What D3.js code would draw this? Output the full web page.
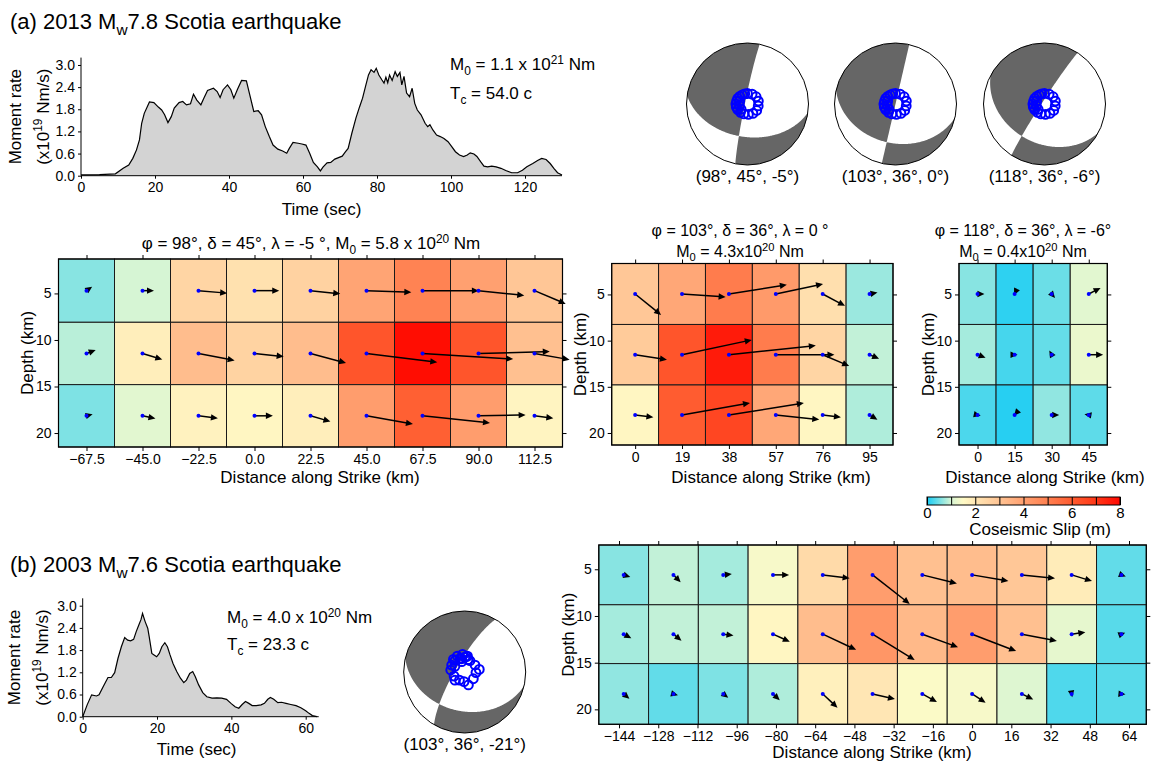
<!DOCTYPE html>
<html>
<head>
<meta charset="utf-8">
<script src="https://cdn.jsdelivr.net/npm/d3@7"></script>
<style>
  body { margin: 0; background: #fff; }
  svg text { font-family: "Liberation Sans", Arial, Helvetica, sans-serif; fill: #000; }
</style>
</head>
<body>
<svg id="chart" width="1151" height="763"></svg>
<script>
// ---- Moment rate functions ----
const timeA = [0,5,9.3,11.4,12.9,14,15,15.8,16.4,17.1,18.5,19.7,20.9,21.8,22.6,23.5,24.4,25.2,26.5,27.5,
  28.5,29.6,30.4,31.3,32.4,33.2,34.2,35.8,36.8,37.6,38.4,39.6,40.5,41.3,42.3,43.4,44.7,45.5,46.7,47.9,
  48.8,49.8,50.9,51.9,53.2,54.5,55.6,56.3,57.3,58.7,59.7,60.8,61.8,62.8,63.9,64.7,65.4,66.5,67.5,68.6,
  69.6,70.6,71.5,72.2,73.2,74.3,75.3,76.1,76.9,77.7,78.4,79.2,79.8,80.5,81.3,81.9,82.4,82.9,83.4,84.1,
  84.9,85.5,86.2,86.7,87.3,88,88.8,89.5,90.2,90.9,91.9,93,93.7,94.3,95.1,96.1,97.1,98.1,99.2,100.2,
  101.2,102.3,103.4,104.4,105.2,106.2,107,108,108.9,109.9,111,112.2,113.5,114.8,116.4,118,119.3,120.5,122.1,123.4,
  124.5,125.7,126.8,127.8,128.8,130];
const rateA = [0.02,0.03,0.05,0.2,0.29,0.47,0.7,0.97,1.42,1.69,2.0,1.98,1.86,1.78,1.65,1.44,1.6,1.83,1.98,2.01,
  1.92,1.95,2.21,2.05,1.92,2.1,2.31,2.37,2.28,2.12,2.33,2.46,2.33,2.1,2.34,2.58,2.57,2.24,1.74,1.76,
  1.65,1.33,1.06,0.83,0.72,0.67,0.61,0.74,0.9,0.88,0.86,0.83,0.61,0.36,0.24,0.13,0.23,0.35,0.36,0.45,
  0.49,0.53,0.65,0.74,1.15,1.56,1.87,2.1,2.42,2.73,2.87,2.8,2.91,2.73,2.6,2.51,2.67,2.52,2.73,2.58,
  2.82,2.69,2.8,2.46,2.69,2.24,2.14,2.37,1.96,1.78,1.65,1.42,1.33,1.38,1.24,1.1,1.06,1.01,0.92,0.79,
  0.65,0.56,0.52,0.56,0.62,0.59,0.52,0.38,0.26,0.24,0.26,0.24,0.2,0.14,0.08,0.08,0.15,0.24,0.33,0.41,
  0.47,0.44,0.33,0.2,0.08,0.02];

const timeB = [0,1.2,2.4,3.7,4.4,5.5,6.8,7.7,8.6,9.5,10.4,11.3,12.1,12.9,13.7,14.4,15.1,15.7,16.1,16.8,
  17.5,17.9,18.6,19.2,19.9,20.6,21.3,22.1,22.8,23.5,24.3,25.3,26.3,27.2,27.9,28.8,29.6,30.3,31.2,32.3,
  33.4,34.8,36.1,37.4,38.7,39.9,41,42,42.9,43.8,44.7,45.6,46.7,48,48.9,49.8,50.5,51.4,52.5,53.5,
  54.7,56,57.4,58.7,60,60.9,61.8,63];
const rateB = [0,0.32,0.59,0.56,0.59,0.81,1.06,1.06,1.19,1.58,1.89,2.14,2.07,2.05,2.09,2.3,2.48,2.63,2.79,2.57,
  2.39,2.16,1.71,1.67,1.62,1.71,1.89,2.0,1.89,1.67,1.44,1.22,1.04,0.92,0.99,1.17,1.22,1.08,0.86,0.65,
  0.54,0.5,0.51,0.5,0.47,0.36,0.27,0.23,0.33,0.41,0.36,0.3,0.3,0.32,0.36,0.47,0.52,0.47,0.38,0.39,
  0.36,0.33,0.3,0.24,0.16,0.09,0.03,0];

const rateTicks = [0, 0.6, 1.2, 1.8, 2.4, 3.0];
const timeTicksA = [0, 20, 40, 60, 80, 100, 120];
const timeTicksB = [0, 20, 40, 60];

// ---- Focal mechanisms (strike, dip, rake) ----
const mechsA = [[98, 45, -5], [103, 36, 0], [118, 36, -6]];
const mechB = [103, 36, -21];
// blue symbols, azimuth / take-off angle in degrees
const blueAzA = [0,25,50,75,100,125,150,175,200,220,240,255,270,285,300,315,330,345,230,260,290];
const blueToaA = [14,14.5,15,15,14.5,15,14.5,14,14,14.5,15,15.5,15.5,15,15,14.5,14,14,11,11,11];
const blueAzB = [318,335,353,10,25,56,80,93,128,164,184,213,249,278,298,341,1,344,345,15,320,5,300,230];
const blueToaB = [22.6,23.4,23.7,21.5,16.6,16.6,19.8,15,14.6,18,12.9,12.8,15.2,18.8,19.7,19.3,19.6,14.3,18,17,20,21,15,17];

// ---- Slip models: slip (m) and slip direction (deg, counter-clockwise from +strike) ----
const grid1Dist = [-67.5, -45, -22.5, 0, 22.5, 45, 67.5, 90, 112.5];
const grid1DepthEdges = [1.3, 8.1, 14.8, 21.5];
const grid1Slip = [
  [0.6, 1.0, 2.5, 2.15, 2.6, 3.9, 4.9, 4.0, 2.95],
  [0.85, 1.8, 3.2, 2.55, 3.2, 6.2, 7.9, 6.2, 3.1],
  [0.55, 1.15, 1.7, 1.6, 1.8, 4.1, 5.9, 4.1, 1.65]];
const grid1Dir = [
  [35, 0, -5, 0, -6, -2, 0, -6, -23],
  [20, -17, -11, -6, -15, -7, -3.5, 1.5, -10],
  [15, -12, -7, 0, -16, -10, -6, 1, -7]];

const grid2Dist = [0, 19, 38, 57, 76, 95];
const grid2DepthEdges = [1.65, 8.25, 14.8, 21.3];
const grid2Slip = [
  [2.9, 3.8, 5.1, 4.2, 2.2, 0.7],
  [2.8, 6.2, 7.6, 5.1, 2.5, 0.9],
  [1.6, 6.0, 6.6, 3.8, 1.6, 0.8]];
const grid2Dir = [
  [-39, -4, 9, 12, -28, 10],
  [-9, 12, 6, 0, -23, -23],
  [-7, 10, 9, -6, -7, -31]];

const grid3Dist = [0, 15, 30, 45];
const grid3DepthEdges = [1.65, 8.25, 14.8, 21.3];
const grid3Slip = [
  [0.6, 0.12, 0.45, 1.15],
  [0.75, 0.25, 0.42, 1.25],
  [0.28, 0.08, 0.65, 0.38]];
const grid3Dir = [
  [0, -115, -50, 27],
  [-21, 0, 120, 0],
  [-12, -130, 0, 170]];

const grid4Dist = [-142.1, -121.8, -101.5, -81.2, -60.9, -40.6, -20.3, 0, 20.3, 40.6, 60.9];
const grid4Ticks = [-144, -128, -112, -96, -80, -64, -48, -32, -16, 0, 16, 32, 48, 64];
const grid4DepthEdges = [2.4, 8.8, 15.1, 21.6];
const grid4Slip = [
  [0.6, 0.9, 0.75, 1.4, 2.35, 4.1, 3.1, 3.2, 2.9, 1.85, 0.4],
  [0.75, 0.9, 0.9, 1.6, 3.2, 4.3, 3.3, 4.1, 3.1, 1.2, 0.35],
  [0.65, 0.4, 0.55, 0.8, 1.75, 2.0, 1.45, 1.4, 1.1, 0.3, 0.35]];
const grid4Dir = [
  [-17, -46, 6, 0, -7, -38, -14, -9.5, -6, -17, -20],
  [-28, -39, -8, -24, -25, -31.5, -20, -21, -11, 8, 20],
  [-40, -15, -38, -43, -43, -13, -29, -33, -26, -80, -5]];

const depthTicks = [5, 10, 15, 20];

// colour table for slip
const slipStops = [0, 0.5, 1, 1.5, 2, 3, 4, 5, 6, 7, 8];
const slipColors = ["#18ccf4", "#74e0e6", "#d6f5d4", "#fffac6", "#ffe6b4", "#ffc494",
                    "#ffa070", "#ff8050", "#ff5c30", "#ff3818", "#ff0800"];
const slipTicks = [0, 2, 4, 6, 8];

const slipColor = d3.scaleLinear().domain(slipStops).range(slipColors).clamp(true);
const svg = d3.select("#chart");
const PX_PER_M = 11.5;

// text with sub/superscripts; parts = [[text, "sub"|"sup"|undefined], ...]
function rich(x, y, parts, size, anchor, rotate) {
  const t = svg.append("text")
    .attr("x", x).attr("y", y)
    .attr("font-size", size)
    .attr("text-anchor", anchor || "start");
  if (rotate) t.attr("transform", `rotate(-90, ${x}, ${y})`);
  let cur = 0;
  parts.forEach(p => {
    let want = p[1] === "sub" ? size * 0.28 : p[1] === "sup" ? -size * 0.38 : 0;
    t.append("tspan")
      .attr("dy", want - cur)
      .attr("font-size", p[1] ? size * 0.7 : size)
      .text(p[0]);
    cur = want;
  });
  return t;
}

function styleAxis(g) {
  g.attr("font-size", 14).attr("font-family", "'Liberation Sans', Arial, sans-serif");
  g.select(".domain").remove();
  g.selectAll("line").attr("stroke", "#000");
  g.selectAll("text").attr("fill", "#000");
}

/* Moment rate panel */
function drawRate(cfg) {
  let x = d3.scaleLinear().domain(cfg.xDomain).range(cfg.xRange);
  let y = d3.scaleLinear().domain([0, 3.2]).range(cfg.yRange);
  let pts = d3.zip(cfg.time, cfg.rate);

  svg.append("path").datum(pts)
    .attr("d", d3.area().x(d => x(d[0])).y0(y(0)).y1(d => y(d[1])))
    .attr("fill", "#d3d3d3");
  svg.append("path").datum(pts)
    .attr("d", d3.line().x(d => x(d[0])).y(d => y(d[1])))
    .attr("fill", "none").attr("stroke", "#000").attr("stroke-width", 1.2);

  svg.append("g").attr("transform", `translate(0, ${cfg.yRange[0]})`)
    .call(d3.axisBottom(x).tickValues(cfg.ticks).tickSize(3).tickPadding(3).tickSizeOuter(0))
    .call(styleAxis);
  svg.append("g").attr("transform", `translate(${cfg.xRange[0]}, 0)`)
    .call(d3.axisLeft(y).tickValues(rateTicks).tickFormat(d3.format(".1f")).tickSize(3).tickPadding(3).tickSizeOuter(0))
    .call(styleAxis);
  // axis lines
  svg.append("line").attr("x1", cfg.xRange[0]).attr("x2", cfg.xRange[1])
    .attr("y1", cfg.yRange[0]).attr("y2", cfg.yRange[0]).attr("stroke", "#000");
  svg.append("line").attr("x1", cfg.xRange[0]).attr("x2", cfg.xRange[0])
    .attr("y1", cfg.yRange[0]).attr("y2", cfg.yRange[1]).attr("stroke", "#000");

  let midY = (cfg.yRange[0] + cfg.yRange[1]) / 2;
  rich(cfg.labelX[0], midY, [["Moment rate"]], 17, "middle", true).attr("dy", "0.35em");
  rich(cfg.labelX[1], midY, [["(x10"], ["19", "sup"], [" Nm/s)"]], 17, "middle", true)
    .select("tspan").attr("dy", "0.35em");
  svg.append("text").attr("x", (cfg.xRange[0] + cfg.xRange[1]) / 2 + cfg.titleShift)
    .attr("y", cfg.titleY).attr("text-anchor", "middle").attr("font-size", 17).text("Time (sec)");
  rich(cfg.textX, cfg.textY[0], cfg.m0, 17);
  rich(cfg.textX, cfg.textY[1], cfg.tc, 17);
}

/* Beach ball (lower hemisphere, equal area) */
let ballCount = 0;
function drawBall(cx, cy, R, mech, blueAz, blueToa) {
  const rad = Math.PI / 180;
  const [phi, delta, lambda] = mech.map(v => v * rad);
  const nrm = [-Math.sin(delta) * Math.sin(phi), Math.sin(delta) * Math.cos(phi), -Math.cos(delta)];
  const slp = [Math.cos(lambda) * Math.cos(phi) + Math.sin(lambda) * Math.cos(delta) * Math.sin(phi),
               Math.cos(lambda) * Math.sin(phi) - Math.sin(lambda) * Math.cos(delta) * Math.cos(phi),
               -Math.sin(lambda) * Math.sin(delta)];
  const n = 180, ext = 1.08;
  const vals = new Float64Array(n * n);
  for (let j = 0; j < n; j++) {
    for (let i = 0; i < n; i++) {
      let px = ((i + 0.5) / n * 2 - 1) * ext;
      let py = ((j + 0.5) / n * 2 - 1) * ext;
      let r = Math.min(Math.hypot(px, py), 1.4);
      let inc = 2 * Math.asin(r / Math.SQRT2);
      let az = Math.atan2(px, -py);
      let ray = [Math.sin(inc) * Math.cos(az), Math.sin(inc) * Math.sin(az), Math.cos(inc)];
      let a = nrm[0] * ray[0] + nrm[1] * ray[1] + nrm[2] * ray[2];
      let b = slp[0] * ray[0] + slp[1] * ray[1] + slp[2] * ray[2];
      vals[j * n + i] = a * b;
    }
  }
  const id = "ballclip" + (ballCount++);
  svg.append("clipPath").attr("id", id).append("circle").attr("cx", cx).attr("cy", cy).attr("r", R);
  const g = svg.append("g");
  g.append("circle").attr("cx", cx).attr("cy", cy).attr("r", R).attr("fill", "#fff");
  const proj = d3.geoIdentity().scale(2 * ext * R / n).translate([cx - ext * R, cy - ext * R]);
  g.append("g").attr("clip-path", `url(#${id})`)
    .selectAll("path")
    .data(d3.contours().size([n, n]).thresholds([0])(vals))
    .join("path")
    .attr("d", d3.geoPath(proj))
    .attr("fill", "#666");
  g.append("circle").attr("cx", cx).attr("cy", cy).attr("r", R)
    .attr("fill", "none").attr("stroke", "#000").attr("stroke-width", 1);

  const pts = d3.zip(blueAz, blueToa).map(([az, toa]) => {
    let r = Math.SQRT2 * Math.sin(toa * rad / 2) * R;
    return [cx + r * Math.sin(az * rad), cy - r * Math.cos(az * rad)];
  });
  g.selectAll(null).data(pts).join("circle")
    .attr("cx", d => d[0]).attr("cy", d => d[1]).attr("r", 4.4)
    .attr("fill", "none").attr("stroke", "#0000ff").attr("stroke-width", 2);

  svg.append("text").attr("x", cx).attr("y", cy + R + 17)
    .attr("text-anchor", "middle").attr("font-size", 17)
    .text(`(${mech[0]}°, ${mech[1]}°, ${mech[2]}°)`);
}

/* Slip grid */
function arrow(g, x0, y0, len, dirDeg) {
  let a = dirDeg * Math.PI / 180;
  let ux = Math.cos(a), uy = -Math.sin(a);
  let x1 = x0 + len * ux, y1 = y0 + len * uy;
  let hl = 7, hw = 3.2;
  if (len > hl) {
    g.append("line").attr("x1", x0).attr("y1", y0)
      .attr("x2", x1 - ux * (hl - 1)).attr("y2", y1 - uy * (hl - 1))
      .attr("stroke", "#000").attr("stroke-width", 1.5);
  }
  let bx = x1 - ux * hl, by = y1 - uy * hl;
  g.append("polygon")
    .attr("points", [[x1, y1], [bx - uy * hw, by + ux * hw], [bx + uy * hw, by - ux * hw]].map(p => p.join(",")).join(" "))
    .attr("fill", "#000");
  g.append("circle").attr("cx", x0).attr("cy", y0).attr("r", 2).attr("fill", "#0000ff");
}

function drawGrid(cfg) {
  let x = d3.scaleLinear().domain(cfg.xDomain).range(cfg.xRange);
  let y = d3.scaleLinear().domain([cfg.depthEdges[0], cfg.depthEdges[3]]).range(cfg.yRange);
  let g = svg.append("g");
  let half = cfg.cellWidth / 2;

  cfg.slip.forEach((row, r) => row.forEach((s, c) => {
    g.append("rect")
      .attr("x", x(cfg.dist[c] - half))
      .attr("y", y(cfg.depthEdges[r]))
      .attr("width", x(cfg.dist[c] + half) - x(cfg.dist[c] - half))
      .attr("height", y(cfg.depthEdges[r + 1]) - y(cfg.depthEdges[r]))
      .attr("fill", slipColor(s))
      .attr("stroke", "#1a1a1a").attr("stroke-width", 1);
  }));

  let arrows = svg.append("g");
  cfg.slip.forEach((row, r) => row.forEach((s, c) => {
    let cy = y((cfg.depthEdges[r] + cfg.depthEdges[r + 1]) / 2);
    arrow(arrows, x(cfg.dist[c]), cy, s * PX_PER_M, cfg.dir[r][c]);
  }));

  g.append("rect")
    .attr("x", cfg.xRange[0]).attr("y", cfg.yRange[0])
    .attr("width", cfg.xRange[1] - cfg.xRange[0]).attr("height", cfg.yRange[1] - cfg.yRange[0])
    .attr("fill", "none").attr("stroke", "#000").attr("stroke-width", 1.2);

  svg.append("g").attr("transform", `translate(0, ${cfg.yRange[1]})`)
    .call(d3.axisBottom(x).tickValues(cfg.ticks).tickFormat(d3.format(cfg.fmt)).tickSize(4).tickPadding(3))
    .call(styleAxis);
  svg.append("g").attr("transform", `translate(0, ${cfg.yRange[0]})`)
    .call(d3.axisTop(x).tickValues(cfg.ticks).tickFormat("").tickSize(4))
    .call(styleAxis);
  svg.append("g").attr("transform", `translate(${cfg.xRange[0]}, 0)`)
    .call(d3.axisLeft(y).tickValues(depthTicks).tickSize(4).tickPadding(3))
    .call(styleAxis);
  svg.append("g").attr("transform", `translate(${cfg.xRange[1]}, 0)`)
    .call(d3.axisRight(y).tickValues(depthTicks).tickFormat("").tickSize(4))
    .call(styleAxis);

  let midY = (cfg.yRange[0] + cfg.yRange[1]) / 2;
  svg.append("text").attr("x", cfg.depthLabelX).attr("y", midY).attr("dy", "0.35em")
    .attr("transform", `rotate(-90, ${cfg.depthLabelX}, ${midY})`)
    .attr("text-anchor", "middle").attr("font-size", 17).text("Depth (km)");
  svg.append("text").attr("x", cfg.xTitleX).attr("y", cfg.xTitleY)
    .attr("text-anchor", "middle").attr("font-size", 17).text("Distance along Strike (km)");
  cfg.title.forEach((line, i) => rich(cfg.titleX, cfg.titleY[i], line, cfg.titleSize || 17, "middle"));
}

/* ---------- Panel (a) ---------- */
rich(10, 29, [["(a) 2013 M"], ["w", "sub"], ["7.8 Scotia earthquake"]], 22);

drawRate({
  time: timeA, rate: rateA, ticks: timeTicksA,
  xDomain: [0, 130], xRange: [81, 562], yRange: [175.7, 57.6],
  labelX: [21, 43], titleY: 215, titleShift: 0,
  textX: 450, textY: [70, 99],
  m0: [["M"], ["0", "sub"], [" = 1.1 x 10"], ["21", "sup"], [" Nm"]],
  tc: [["T"], ["c", "sub"], [" = 54.0 c"]]
});

const ballXA = [747.5, 895.5, 1044.5];
mechsA.forEach((m, i) => drawBall(ballXA[i], 104, 61, m, blueAzA, blueToaA));

drawGrid({
  dist: grid1Dist, ticks: grid1Dist, fmt: ".1f", cellWidth: 22.5,
  depthEdges: grid1DepthEdges, slip: grid1Slip, dir: grid1Dir,
  xDomain: [-78.75, 123.75], xRange: [58.5, 562.5], yRange: [259, 447],
  depthLabelX: 27, xTitleX: 320, xTitleY: 483,
  titleX: 311, titleY: [249],
  title: [[["φ = 98°, δ = 45°, λ = -5 °, M"], ["0", "sub"], [" = 5.8 x 10"], ["20", "sup"], [" Nm"]]]
});

drawGrid({
  dist: grid2Dist, ticks: grid2Dist, fmt: "d", cellWidth: 19,
  depthEdges: grid2DepthEdges, slip: grid2Slip, dir: grid2Dir,
  xDomain: [-9.5, 104.5], xRange: [611.7, 893], yRange: [263.5, 445],
  depthLabelX: 580, xTitleX: 771, xTitleY: 483,
  titleX: 740, titleY: [236, 257], titleSize: 16,
  title: [[["φ = 103°, δ = 36°, λ = 0 °"]],
          [["M"], ["0", "sub"], [" = 4.3x10"], ["20", "sup"], [" Nm"]]]
});

drawGrid({
  dist: grid3Dist, ticks: grid3Dist, fmt: "d", cellWidth: 15,
  depthEdges: grid3DepthEdges, slip: grid3Slip, dir: grid3Dir,
  xDomain: [-7.5, 52.5], xRange: [959, 1107.3], yRange: [263.5, 445],
  depthLabelX: 928, xTitleX: 1045, xTitleY: 483,
  titleX: 1023, titleY: [236, 257], titleSize: 16,
  title: [[["φ = 118°, δ = 36°, λ = -6°"]],
          [["M"], ["0", "sub"], [" = 0.4x10"], ["20", "sup"], [" Nm"]]]
});

/* Colour bar */
(function () {
  let x = d3.scaleLinear().domain([0, 8]).range([927, 1120]);
  let grad = svg.append("defs").append("linearGradient").attr("id", "slipgrad");
  slipStops.forEach((s, i) => grad.append("stop")
    .attr("offset", `${s / 8 * 100}%`).attr("stop-color", slipColors[i]));
  svg.append("rect").attr("x", x(0)).attr("y", 497).attr("width", x(8) - x(0)).attr("height", 8)
    .attr("fill", "url(#slipgrad)").attr("stroke", "#000").attr("stroke-width", 1);
  svg.append("g").attr("transform", "translate(0, 505)")
    .call(d3.axisBottom(x).ticks(8).tickFormat("").tickSize(-8))
    .call(styleAxis);
  svg.append("g").attr("transform", "translate(0, 505)")
    .call(d3.axisBottom(x).tickValues(slipTicks).tickFormat(d3.format("d")).tickSize(0).tickPadding(2))
    .call(g => { styleAxis(g); g.selectAll("text").attr("font-size", 15); });
  svg.append("text").attr("x", 1040).attr("y", 535).attr("text-anchor", "middle")
    .attr("font-size", 17).text("Coseismic Slip (m)");
})();

/* ---------- Panel (b) ---------- */
rich(10, 572, [["(b) 2003 M"], ["w", "sub"], ["7.6 Scotia earthquake"]], 22);

drawRate({
  time: timeB, rate: rateB, ticks: timeTicksB,
  xDomain: [0, 63.5], xRange: [82.7, 318.7], yRange: [716.7, 598.3],
  labelX: [20, 42], titleY: 755, titleShift: -4,
  textX: 227, textY: [623, 650],
  m0: [["M"], ["0", "sub"], [" = 4.0 x 10"], ["20", "sup"], [" Nm"]],
  tc: [["T"], ["c", "sub"], [" = 23.3 c"]]
});

drawBall(464.7, 672, 61, mechB, blueAzB, blueToaB);

drawGrid({
  dist: grid4Dist, ticks: grid4Ticks, fmt: "d", cellWidth: 20.3,
  depthEdges: grid4DepthEdges, slip: grid4Slip, dir: grid4Dir,
  xDomain: [-152.25, 71.05], xRange: [598.8, 1146.3], yRange: [545, 724.3],
  depthLabelX: 568, xTitleX: 872, xTitleY: 758,
  titleX: 872, titleY: [],
  title: []
});
</script>
</body>
</html>
